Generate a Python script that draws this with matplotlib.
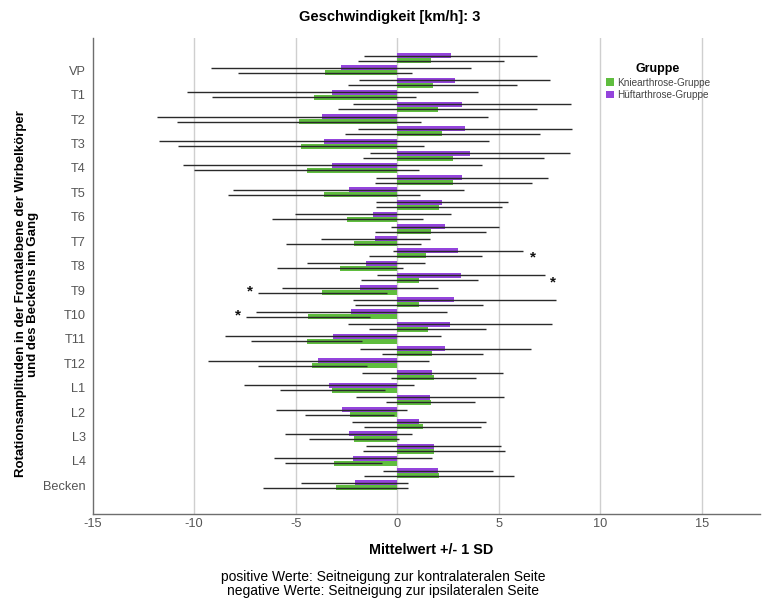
import matplotlib
matplotlib.use("Agg")
import matplotlib.pyplot as plt
from matplotlib.patches import Patch
import numpy as np

plt.rcParams['font.family'] = ['Liberation Sans', 'DejaVu Sans']

categories = ["VP", "T1", "T2", "T3", "T4", "T5", "T6", "T7", "T8", "T9",
              "T10", "T11", "T12", "L1", "L2", "L3", "L4", "Becken"]

# Hüftarthrose-Gruppe: contralateral (positive) and ipsilateral (negative) side
hueft_pos_mean = [2.62, 2.82, 3.17, 3.33, 3.58, 3.20, 2.21, 2.35, 2.97, 3.12,
                  2.81, 2.59, 2.36, 1.72, 1.59, 1.08, 1.79, 2.02]
hueft_pos_sd = [4.27, 4.71, 5.36, 5.25, 4.93, 4.24, 3.26, 2.66, 3.20, 4.13,
                5.00, 5.00, 4.22, 3.47, 3.64, 3.29, 3.31, 2.71]
hueft_neg_mean = [-2.77, -3.20, -3.69, -3.61, -3.20, -2.40, -1.21, -1.08, -1.54, -1.84,
                  -2.26, -3.18, -3.89, -3.35, -2.74, -2.40, -2.17, -2.10]
hueft_neg_sd = [6.39, 7.15, 8.14, 8.12, 7.36, 5.70, 3.84, 2.69, 2.91, 3.82,
                4.70, 5.32, 5.43, 4.17, 3.22, 3.11, 3.89, 2.65]

# Kniearthrose-Gruppe
knie_pos_mean = [1.66, 1.74, 1.98, 2.21, 2.76, 2.76, 2.07, 1.64, 1.39, 1.08,
                 1.07, 1.49, 1.72, 1.79, 1.64, 1.25, 1.79, 2.07]
knie_pos_sd = [3.59, 4.17, 4.89, 4.80, 4.44, 3.87, 3.10, 2.72, 2.76, 2.87,
               3.15, 2.86, 2.48, 2.10, 2.18, 2.88, 3.49, 3.69]
knie_neg_mean = [-3.56, -4.08, -4.82, -4.72, -4.45, -3.59, -2.46, -2.15, -2.82, -3.69,
                 -4.38, -4.45, -4.18, -3.20, -2.35, -2.13, -3.13, -3.03]
knie_neg_sd = [4.27, 5.02, 6.00, 6.05, 5.54, 4.72, 3.72, 3.32, 3.09, 3.17,
               3.06, 2.73, 2.69, 2.58, 2.21, 2.22, 2.38, 3.58]

# significance markers: (category, side, x position)
stars = [("T8", "pos", 6.66), ("T9", "pos", 7.66),
         ("T9", "neg", -7.25), ("T10", "neg", -7.86)]

x_ticks = [-15, -10, -5, 0, 5, 10, 15]

green = "#5fbd3e"
purple = "#9444dc"
err_color = "#2a2a2a"

fig = plt.figure(figsize=(7.62, 6.01), dpi=100)
ax = fig.add_axes([92.5 / 762, 87 / 601, 667.5 / 762, 476 / 601])

n = len(categories)
idx = np.arange(n)
pos_rows = 2 * idx          # contralateral cluster row
neg_rows = 2 * idx + 1      # ipsilateral cluster row
off = 0.205
h = 0.41

def draw(rows, means, sds, color, dy):
    y = rows + dy
    ax.barh(y, means, height=h, color=color, edgecolor="none", zorder=2)
    m = np.asarray(means)
    s = np.asarray(sds)
    ax.hlines(y, m - s, m + s, color=err_color, lw=1.0, zorder=3)

draw(pos_rows, hueft_pos_mean, hueft_pos_sd, purple, -off)
draw(pos_rows, knie_pos_mean, knie_pos_sd, green, off)
draw(neg_rows, hueft_neg_mean, hueft_neg_sd, purple, -off)
draw(neg_rows, knie_neg_mean, knie_neg_sd, green, off)

for cat, side, xs in stars:
    i = categories.index(cat)
    row = 2 * i if side == "pos" else 2 * i + 1 - 0.25
    ax.text(xs, row + 0.35, "*", ha="center", va="center", fontsize=11,
            fontweight="bold", color="#111111", zorder=4)

ax.set_xlim(-15, 17.85)
ax.set_ylim(2 * n - 1 + 2.35, -1.65)
ax.set_xticks(x_ticks)
ax.set_xticklabels([str(t) for t in x_ticks])
ax.set_yticks(neg_rows)
ax.set_yticklabels(categories)
ax.tick_params(axis="both", length=0, labelsize=9.2, labelcolor="#555555")
ax.tick_params(axis="x", pad=3)
ax.tick_params(axis="y", pad=5)

for xv in x_ticks[1:]:
    ax.axvline(xv, color="#cfcfcf", lw=1.0, zorder=1)

for s in ["top", "right"]:
    ax.spines[s].set_visible(False)
for s in ["left", "bottom"]:
    ax.spines[s].set_color("#6e6e6e")
    ax.spines[s].set_linewidth(1.0)

fig.text(390 / 762, 1 - 17 / 601, "Geschwindigkeit [km/h]: 3", ha="center",
         va="center", fontsize=10.5, fontweight="bold")
fig.text(431 / 762, 1 - 550 / 601, "Mittelwert +/- 1 SD", ha="center",
         va="center", fontsize=10.4, fontweight="bold")
fig.text(383 / 762, 1 - 584 / 601,
         "positive Werte: Seitneigung zur kontralateralen Seite\n"
         "negative Werte: Seitneigung zur ipsilateralen Seite",
         ha="center", va="center", fontsize=10, linespacing=1.0)
fig.text(27 / 762, 1 - 294 / 601,
         "Rotationsamplituden in der Frontalebene der Wirbelkörper\n"
         "und des Beckens im Gang",
         ha="center", va="center", rotation=90, fontsize=9.5,
         fontweight="bold", linespacing=1.1)

handles = [Patch(facecolor=green, edgecolor="none", label="Kniearthrose-Gruppe"),
           Patch(facecolor=purple, edgecolor="none", label="Hüftarthrose-Gruppe")]
leg = ax.legend(handles=handles, title="Gruppe", loc="upper left",
                bbox_to_anchor=(599 / 762, 1 - 56 / 601), bbox_transform=fig.transFigure,
                frameon=False, fontsize=7.2, handlelength=0.8, handleheight=0.8,
                handletextpad=0.3, labelspacing=0.25, borderpad=0.2)
leg.get_title().set_fontweight("bold")
leg.get_title().set_fontsize(9)
for t in leg.get_texts():
    t.set_color("#444444")

fig.savefig("out.png", dpi=100)
